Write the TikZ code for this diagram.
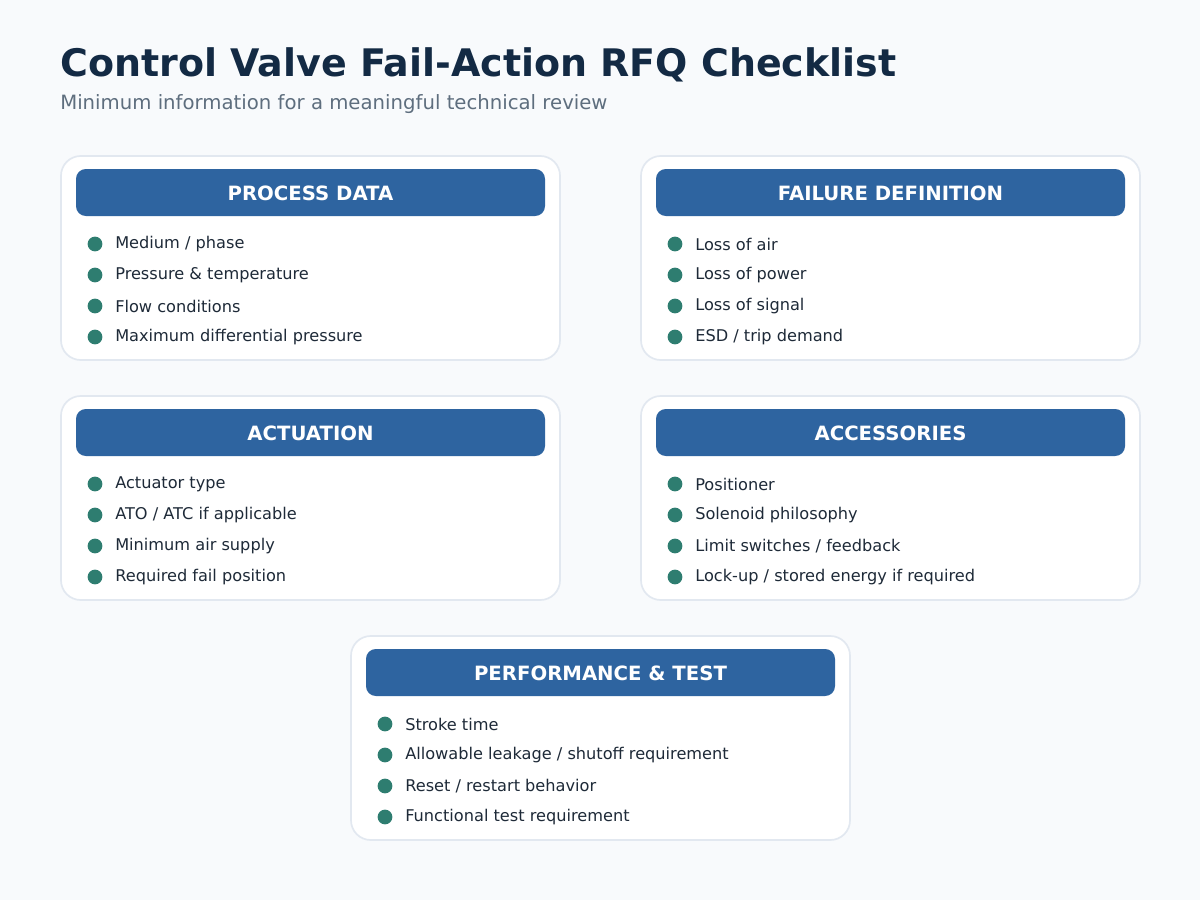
\documentclass[tikz,border=0pt]{standalone}
\usepackage{fontspec}
\setmainfont{DejaVu Sans}
\usetikzlibrary{positioning}
\definecolor{BgGray}{HTML}{F8FAFC}
\definecolor{TitleInk}{HTML}{132A44}
\definecolor{SubInk}{HTML}{5E6E7E}
\definecolor{HeadBlue}{HTML}{2E64A0}
\definecolor{DotTeal}{HTML}{2E7D70}
\definecolor{ItemInk}{HTML}{1E2A38}
\definecolor{CardLine}{HTML}{E2E8F0}
\tikzset{
  card/.style={draw=CardLine,line width=1.2pt,fill=white,rounded corners=14pt},
  head/.style={fill=HeadBlue,rounded corners=7pt},
  headtext/.style={text=white,font=\bfseries\fontsize{14}{16}\selectfont},
  item/.style={anchor=west,text=ItemInk,font=\fontsize{11.5}{13}\selectfont,inner sep=0pt},
  dot/.style={fill=DotTeal,circle,inner sep=0pt,minimum size=10.5pt}
}
% one checklist card: x, y, name, title, items
\newcommand\rfqcard[5]{
  \draw[card] (#1,#2) rectangle ++(499,204);
  \fill[head] (#1+15,#2+13) rectangle ++(469,47);
  \node[headtext] (#3-head) at (#1+249.5,#2+37) {#4};
  \foreach[count=\i] \txt in {#5} {
    \node[dot] (#3-dot\i) at (#1+34,#2+57+31*\i) {};
    \node[item] (#3-item\i) at (#1+54,#2+57+31*\i) {\txt};
  }
}
\begin{document}
\begin{tikzpicture}[x=0.025cm,y=-0.025cm]
  \fill[BgGray] (0,0) rectangle (1200,900);
  \node[anchor=west,text=TitleInk,font=\bfseries\fontsize{27}{30}\selectfont,inner sep=0pt] (title) at (60,65) {Control Valve Fail-Action RFQ Checklist};
  \node[anchor=west,text=SubInk,font=\fontsize{14}{16}\selectfont,inner sep=0pt] (subtitle) at (60,104) {Minimum information for a meaningful technical review};

  \rfqcard{61}{156}{process}{PROCESS DATA}{Medium / phase,Pressure \& temperature,Flow conditions,Maximum differential pressure}
  \rfqcard{641}{156}{failure}{FAILURE DEFINITION}{Loss of air,Loss of power,Loss of signal,ESD / trip demand}
  \rfqcard{61}{396}{actuation}{ACTUATION}{Actuator type,ATO / ATC if applicable,Minimum air supply,Required fail position}
  \rfqcard{641}{396}{access}{ACCESSORIES}{Positioner,Solenoid philosophy,Limit switches / feedback,Lock-up / stored energy if required}
  \rfqcard{351}{636}{perf}{PERFORMANCE \& TEST}{Stroke time,Allowable leakage / shutoff requirement,Reset / restart behavior,Functional test requirement}
\end{tikzpicture}
\end{document}
